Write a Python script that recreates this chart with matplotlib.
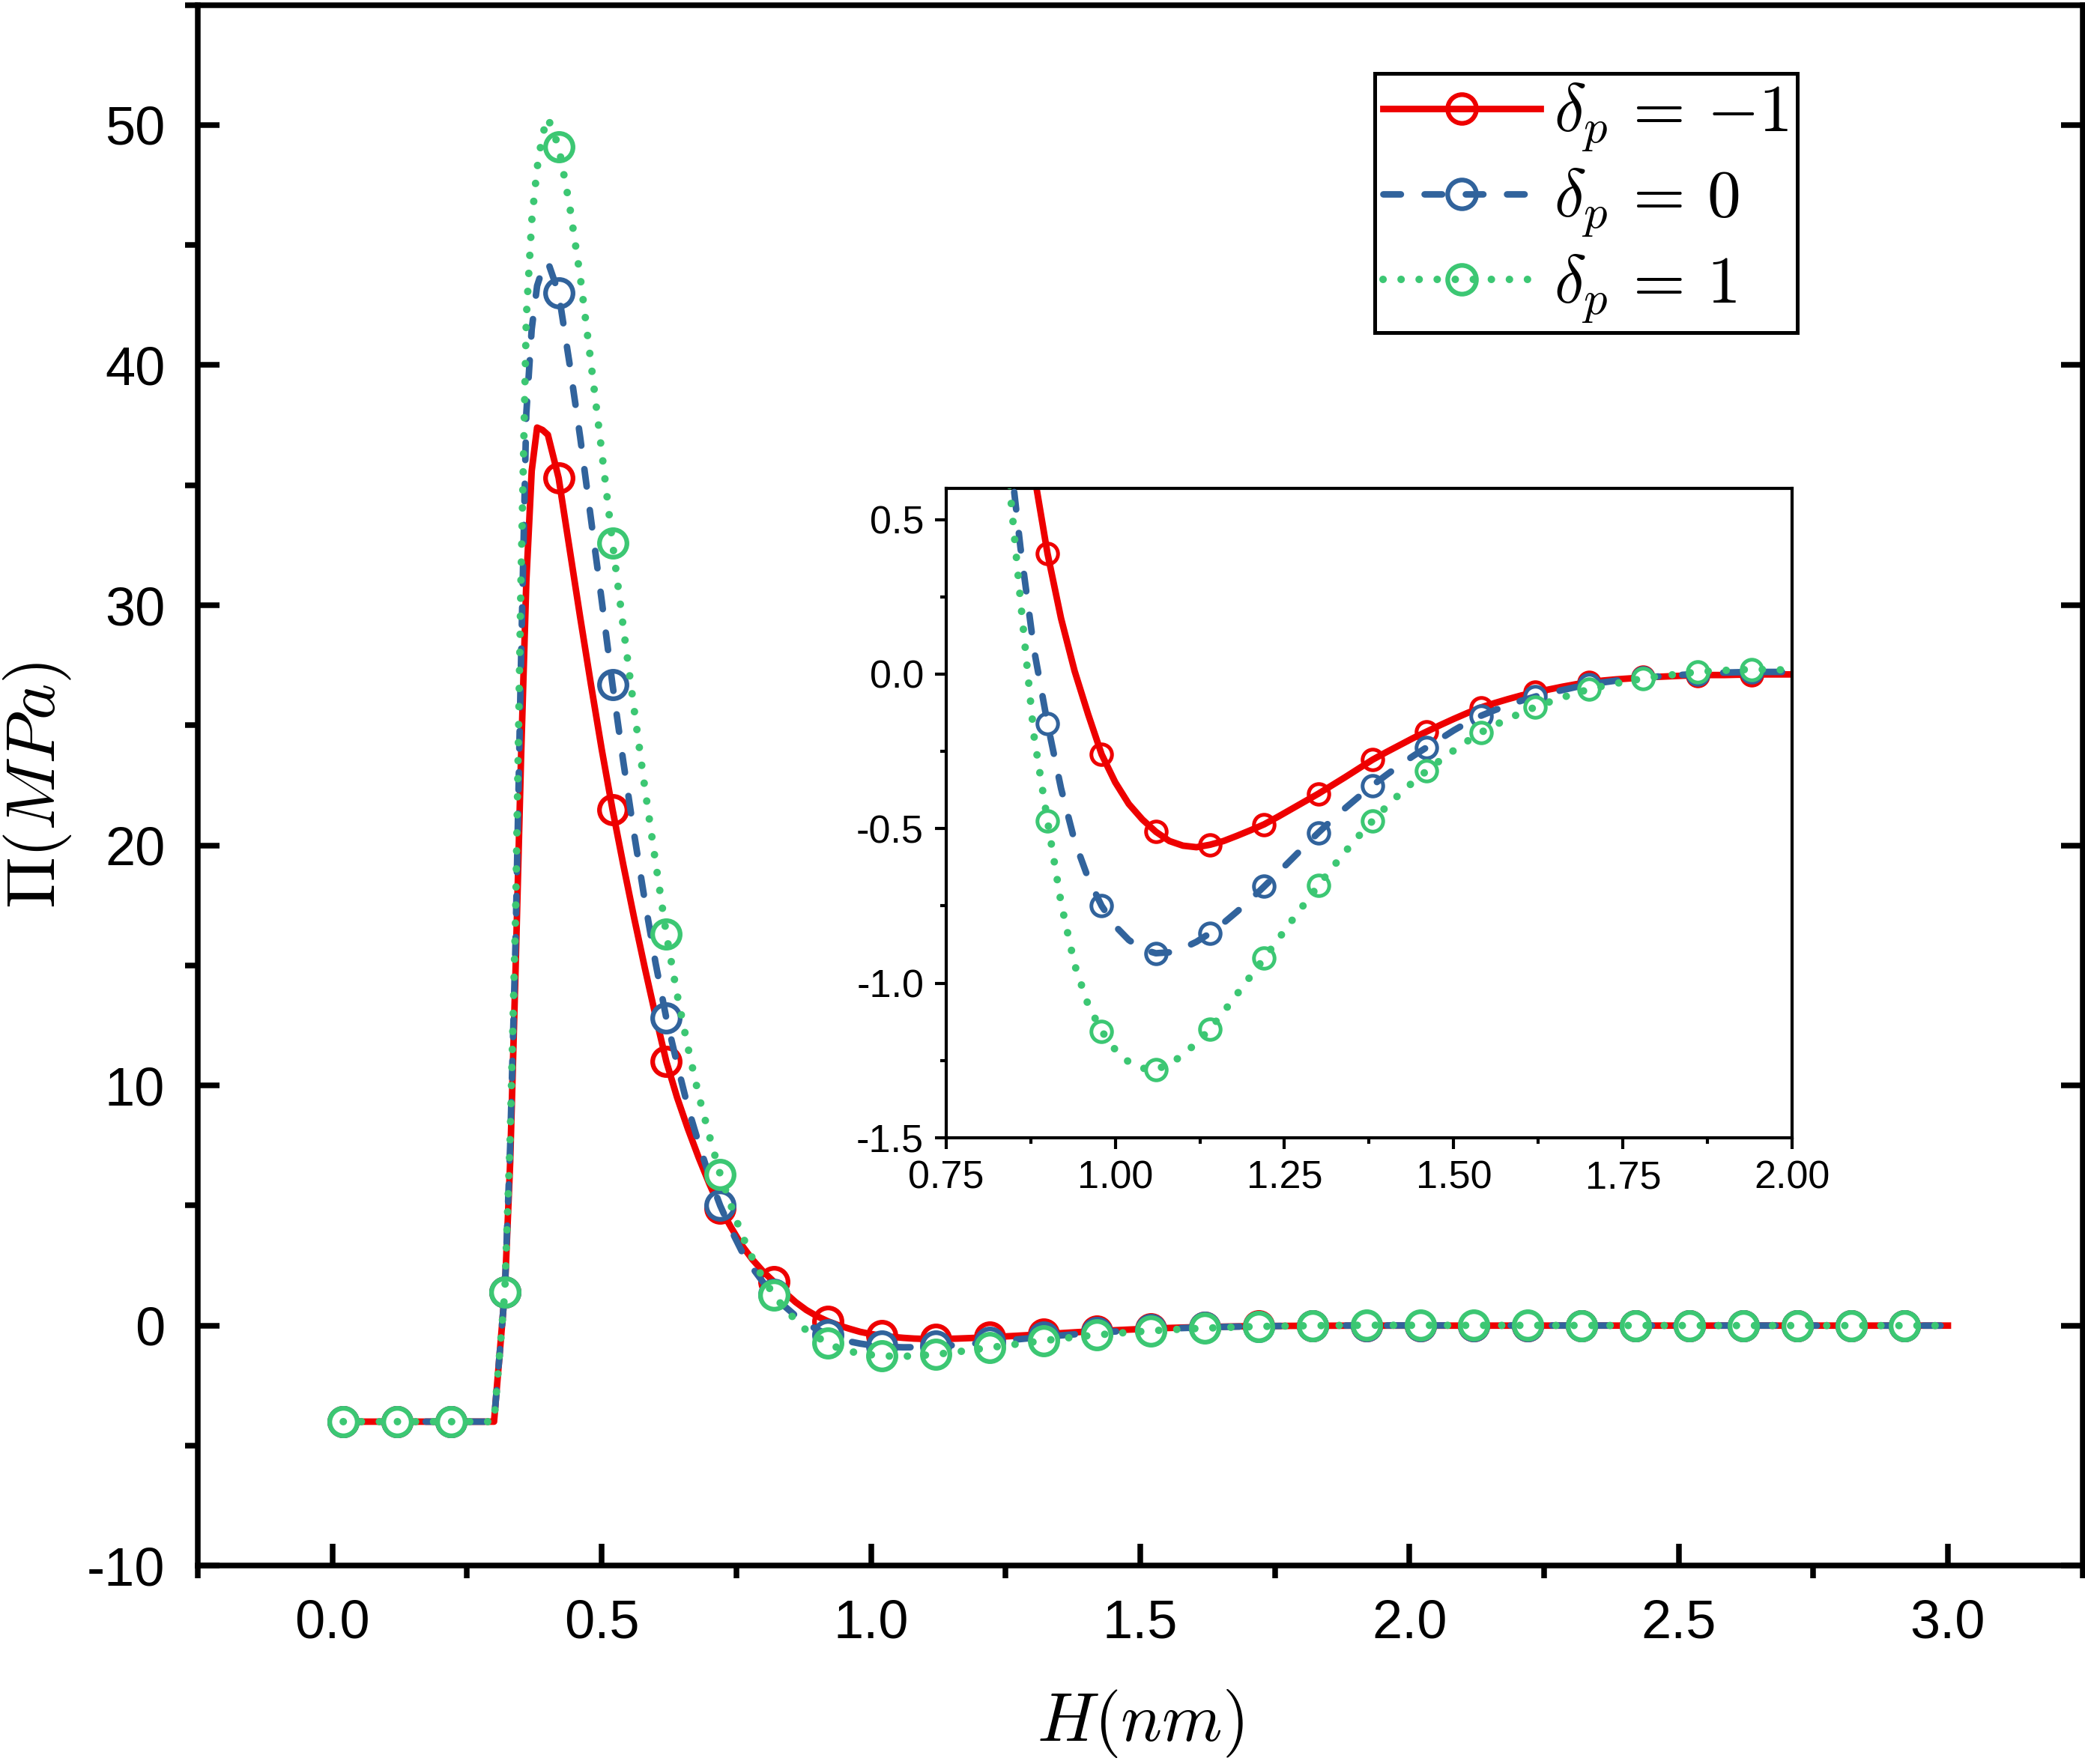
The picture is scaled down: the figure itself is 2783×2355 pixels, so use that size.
import numpy as np
import matplotlib
matplotlib.use("Agg")
import matplotlib.pyplot as plt
from matplotlib.lines import Line2D
from matplotlib.ticker import MultipleLocator

plt.rcParams['font.family'] = ['Liberation Sans', 'DejaVu Sans']
plt.rcParams['mathtext.fontset'] = 'cm'
plt.rcParams['axes.unicode_minus'] = False

# H grid (nm): coarse flat part, finer on the steep rise, then 0.02 steps, coarse tail
H = np.round(np.concatenate([
    np.arange(0.02, 0.321, 0.02),
    np.arange(0.33, 0.395, 0.01),
    np.arange(0.40, 2.001, 0.02),
    np.arange(2.02, 2.93, 0.10),
    [3.00],
]), 2)

# disjoining pressure (MPa)
PI_M1 = [
    -4.0, -4.0, -4.0, -4.0, -4.0, -4.0, -4.0, -4.0, -4.0, -4.0, -4.0, -4.0, -4.0, -4.0, -4.0, 1.4,
    6.8, 14.8, 23.5, 31.0, 35.6, 37.4, 37.3,
    37.1, 35.3, 32.4, 29.5, 26.7, 24.0, 21.5, 19.2, 17.0, 14.9,
    12.9, 11.0, 9.5, 8.2, 7.0, 5.9, 4.9, 4.1, 3.35, 2.75,
    2.25, 1.82, 1.38, 0.98, 0.65, 0.39, 0.18, 0.01, -0.13, -0.26,
    -0.35, -0.42, -0.47, -0.51, -0.54, -0.555, -0.56, -0.552, -0.54, -0.523,
    -0.505, -0.486, -0.462, -0.437, -0.412, -0.387, -0.36, -0.333, -0.305, -0.277,
    -0.253, -0.23, -0.207, -0.186, -0.165, -0.145, -0.126, -0.108, -0.094, -0.081,
    -0.069, -0.059, -0.05, -0.041, -0.033, -0.026, -0.021, -0.017, -0.014, -0.011,
    -0.009, -0.007, -0.005, -0.004, -0.003, -0.003, -0.002, -0.002, -0.001, -0.001,
    -0.001,
    -0.001, -0.001, 0.0, 0.0, 0.0, 0.0, 0.0, 0.0, 0.0, 0.0, 0.0,
]
PI_0 = [
    -4.0, -4.0, -4.0, -4.0, -4.0, -4.0, -4.0, -4.0, -4.0, -4.0, -4.0, -4.0, -4.0, -4.0, -4.0, 1.4,
    7.5, 16.0, 27.5, 38.0, 41.5, 43.3, 44.0,
    44.3, 43.0, 40.1, 37.0, 33.6, 30.2, 26.7, 23.5, 20.5, 17.7,
    15.1, 12.8, 10.9, 9.1, 7.6, 6.2, 5.0, 4.0, 3.1, 2.4,
    1.8, 1.3, 0.8, 0.41, 0.08, -0.16, -0.37, -0.54, -0.66, -0.75,
    -0.815, -0.86, -0.89, -0.903, -0.9, -0.887, -0.866, -0.838, -0.805, -0.768,
    -0.729, -0.687, -0.644, -0.6, -0.556, -0.513, -0.472, -0.433, -0.396, -0.36,
    -0.327, -0.295, -0.265, -0.237, -0.21, -0.182, -0.157, -0.135, -0.117, -0.101,
    -0.086, -0.073, -0.062, -0.052, -0.042, -0.034, -0.027, -0.021, -0.016, -0.012,
    -0.008, -0.005, -0.002, 0.001, 0.003, 0.005, 0.006, 0.007, 0.007, 0.007,
    0.007,
    0.007, 0.006, 0.005, 0.004, 0.003, 0.002, 0.002, 0.001, 0.001, 0.0, 0.0,
]
PI_P1 = [
    -4.0, -4.0, -4.0, -4.0, -4.0, -4.0, -4.0, -4.0, -4.0, -4.0, -4.0, -4.0, -4.0, -4.0, -4.0, 1.4,
    7.8, 17.0, 31.0, 42.0, 46.0, 48.2, 49.6,
    50.3, 49.1, 46.7, 43.7, 40.1, 36.4, 32.6, 29.1, 25.7, 22.4,
    19.3, 16.3, 13.8, 11.6, 9.6, 7.9, 6.3, 5.0, 3.8, 2.8,
    1.95, 1.27, 0.7, 0.24, -0.2, -0.475, -0.74, -0.94, -1.07, -1.155,
    -1.215, -1.255, -1.275, -1.279, -1.262, -1.232, -1.193, -1.148, -1.093, -1.035,
    -0.977, -0.919, -0.86, -0.8, -0.742, -0.684, -0.628, -0.574, -0.523, -0.475,
    -0.43, -0.388, -0.349, -0.313, -0.279, -0.247, -0.217, -0.189, -0.166, -0.145,
    -0.125, -0.107, -0.091, -0.076, -0.062, -0.049, -0.039, -0.03, -0.022, -0.014,
    -0.008, -0.003, 0.002, 0.007, 0.01, 0.012, 0.014, 0.015, 0.015, 0.014,
    0.013,
    0.013, 0.01, 0.008, 0.006, 0.004, 0.003, 0.002, 0.001, 0.001, 0.0, 0.0,
]

labels = [r'$\delta_p\,=\,{-1}$', r'$\delta_p\,=\,0$', r'$\delta_p\,=\,1$']
colors = ['#EE0000', '#31639C', '#3CC773']

# symbol positions (every 5th grid point in the main plot, every 4th in the inset)
mark_main = np.round(0.02 + 0.1 * np.arange(30), 2)
mark_inset = np.round(0.90 + 0.08 * np.arange(14), 2)


def idx_of(xs):
    return [int(np.argmin(np.abs(H - x))) for x in xs]


styles = [
    dict(ls='-', lw=2.1),
    dict(ls=(0, (2.67, 3.62)), lw=2.1, dash_capstyle='round'),
    dict(ls=(0, (0.01, 2.4)), lw=2.4, dash_capstyle='round'),
]
series = [np.array(PI_M1), np.array(PI_0), np.array(PI_P1)]
for s in series:
    assert len(s) == len(H)


def draw(ax, marks, ms, mew):
    idx = idx_of(marks)
    for i, (y, c, st) in enumerate(zip(series, colors, styles)):
        ax.plot(H, y, ls='none', marker='o', ms=ms, mew=mew, mec=c, mfc='white',
                markevery=idx, zorder=2 + 2 * i)
        ax.plot(H, y, color=c, zorder=2.5 + 2 * i, **st)


fig = plt.figure(figsize=(2783 / 300, 2355 / 300), dpi=300)
ax = fig.add_axes([0.0949, 0.1124, 0.9039, 0.8848])
draw(ax, mark_main, 8.8, 1.5)

ax.set_xlim(-0.25, 3.25)
ax.set_ylim(-10, 55)
ax.set_xticks(np.arange(0, 3.01, 0.5))
ax.set_yticks(np.arange(-10, 51, 10))
ax.xaxis.set_minor_locator(MultipleLocator(0.25))
ax.yaxis.set_minor_locator(MultipleLocator(5))
for sp in ax.spines.values():
    sp.set_linewidth(1.8)
ax.tick_params(which='major', direction='in', length=7, width=1.8,
               labelsize=17.3, pad=10.5, right=True)
ax.tick_params(which='minor', direction='out', length=4, width=1.8)
ax.set_xlabel(r'$H(nm)$', fontsize=22)
ax.set_ylabel(r'$\Pi(MPa)$', fontsize=22)
ax.xaxis.set_label_coords(0.5, -0.078)
ax.yaxis.set_label_coords(-0.066, 0.5)

handles = [Line2D([], [], color=c, marker='o', ms=9.2, mew=1.5, mec=c, mfc='none', **st)
           for c, st in zip(colors, styles)]
leg = ax.legend(handles, labels, loc='upper left', bbox_to_anchor=(0.6245, 0.9561),
                borderaxespad=0, fontsize=21.5, frameon=True, fancybox=False,
                edgecolor='black', framealpha=1, borderpad=0.12, labelspacing=0.2,
                handlelength=2.35, handletextpad=0.2)
leg.get_frame().set_linewidth(1.2)

# inset: zoom on the attractive well
axin = fig.add_axes([0.4537, 0.3550, 0.4059, 0.3680])
draw(axin, mark_inset, 6.6, 1.2)
axin.set_xlim(0.75, 2.00)
axin.set_ylim(-1.5, 0.6)
axin.set_xticks(np.arange(0.75, 2.01, 0.25))
axin.set_yticks([-1.5, -1.0, -0.5, 0.0, 0.5])
axin.xaxis.set_minor_locator(MultipleLocator(0.125))
axin.yaxis.set_minor_locator(MultipleLocator(0.25))
for sp in axin.spines.values():
    sp.set_linewidth(1.0)
axin.tick_params(which='major', direction='out', length=3.6, width=1.0,
                 labelsize=12.5, pad=3.5)
axin.tick_params(which='minor', direction='out', length=2, width=1.0)

fig.savefig('out.png', dpi=300)
